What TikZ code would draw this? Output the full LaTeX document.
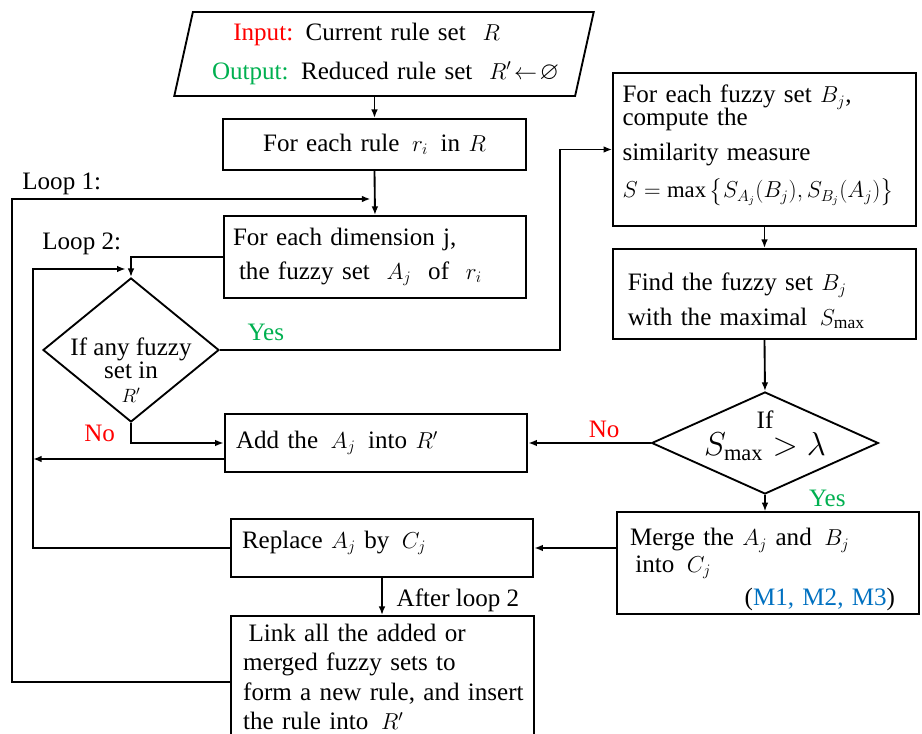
\documentclass[tikz,border=0pt]{standalone}
\usepackage{fontspec}
\setmainfont{Liberation Serif}
\usepackage{amsmath}
\usepackage{amssymb}
\usepackage{tikz}
\usetikzlibrary{arrows.meta,positioning,calc,shapes.geometric}
\definecolor{noRed}{RGB}{255,0,0}
\definecolor{yesGreen}{RGB}{0,176,80}
\definecolor{refBlue}{RGB}{0,112,192}
\newcommand{\boxfont}{\fontsize{18.8}{22}\selectfont}
\hyphenpenalty=10000

\begin{document}
\begin{tikzpicture}[x=0.75pt,y=0.75pt,yscale=-1,xscale=1,
  font=\boxfont, line width=1.4pt,
  arr/.style={-{Latex[length=6.5pt,width=5pt]}},
  block/.style={draw, inner xsep=1pt, inner ysep=2pt, text width=225pt, align=left},
  decision/.style={draw, diamond, inner sep=0pt},
  inout/.style={draw, trapezium, trapezium left angle=73.5, trapezium right angle=106.5, trapezium stretches=true, inner sep=0pt}]
\useasboundingbox (0,0) rectangle (922,734);

%Shape: Parallelogram
\node[inout, minimum width=315pt, minimum height=63pt, text width=280pt, align=left] (io) at (384,54) {\hspace*{27pt}\textcolor{noRed}{Input:} Current rule set \ $R$\\[7pt]\hspace*{11pt}\textcolor{yesGreen}{Output:} Reduced rule set \ $R'\!\leftarrow\!\varnothing$};

%Shape: Rectangle, left column
\node[block, minimum height=38.25pt, align=center] (rule) at (374.5,144.5) {For each rule \,$r_i$\, in $R$};
\node[block, minimum height=61.5pt] (dim) at (375,257) {\hspace*{6pt}For each dimension j,\\[3pt]\hspace*{10.5pt}the fuzzy set \ $A_j$ \ of \ $r_i$};
\node[block, minimum height=43.5pt] (add) at (376,443) {\hspace*{7.5pt}Add the \,$A_j$\, into $R'$};
\node[block, minimum height=43.5pt] (repl) at (382,548) {\hspace*{7.5pt}Replace $A_j$ by \,$C_j$\rule[-13pt]{0pt}{0pt}};
\node[block, minimum height=99pt] (link) at (382.5,682) {\hspace*{12pt}Link all the added or\\\hspace*{8pt}merged fuzzy sets to\\\hspace*{8pt}form a new rule, and insert\\\hspace*{8pt}the rule into \,$R'$\rule[-8pt]{0pt}{0pt}};

%Shape: Rectangle, right column
\node[block, minimum height=114.75pt] (sim) at (764.5,149.5) {\hspace*{6pt}For each fuzzy set $B_j$,\\[-5pt]\hspace*{6pt}compute the\\[4pt]\hspace*{6pt}similarity measure\\[6pt]\hspace*{6pt}{\fontsize{17}{20}\selectfont $S=\max\left\{S_{A_j}(B_j),S_{B_j}(A_j)\right\}$}\rule[-12pt]{0pt}{0pt}};
\node[block, minimum height=67.5pt] (find) at (764.5,294) {\hspace*{10pt}\rule{0pt}{24pt}Find the fuzzy set $B_j$\\[4pt]\hspace*{10pt}with the maximal \,$S_{\max}$};
\node[block, minimum height=75pt] (merge) at (768,563) {\hspace*{9pt}\rule{0pt}{23pt}Merge the $A_j$ and \,$B_j$\\[-2pt]\hspace*{13pt}into \,$C_j$\\[3pt]\hspace*{95pt}(\textcolor{refBlue}{M1, M2, M3})};

%Shape: Diamond
\node[decision, minimum width=132pt, minimum height=108pt] (dec1) at (131,350) {};
\node[decision, minimum width=170pt, minimum height=76.5pt] (dec2) at (765,443) {};

% Text Node
\node[align=center] (dec1txt) at (131,370) {If any fuzzy\\[-5pt]set in\\[-4pt]{\fontsize{14}{16}\selectfont $R'$}};
% Text Node
\node[align=center] (dec2txt) at (765,436) {If\\[-2pt]{\fontsize{24}{26}\selectfont $S_{\max}>\lambda$}};
% Text Node
\node[anchor=west] (loopone) at (17,184) {Loop 1:};
% Text Node
\node[anchor=west] (looptwo) at (37,244) {Loop 2:};

%Straight Lines
\coordinate (loopa) at (12,199);
\coordinate (loopb) at (33,269);
\coordinate (yesbend) at (560,350);
\coordinate (addout) at ($(add.west)+(0,16)$);
\draw[arr] (io.south -| rule.north) -- (rule.north);
\draw[arr] (rule.south) -- (dim.north);
\draw[arr, shorten >=3pt] (link.west) -| (loopa) -- (loopa -| rule.south);
\draw[arr] (dim.west) -| (dec1.north);
\draw[arr, shorten >=4pt] (repl.west) -| (loopb) -- (loopb -| dec1.north);
\draw[arr] (addout) -- (addout -| loopb);
\draw[arr] (dec1.east) -- node[pos=0.135, above, yshift=3pt, text=yesGreen]{Yes} (dec1.east -| yesbend) |- (sim.west);
\draw[arr] (dec1.south) |- node[pos=0.25, left, xshift=-8pt, text=noRed]{No} (add.west);
\draw[arr] (sim.south) -- (find.north);
\draw[arr] (find.south) -- (dec2.north);
\draw[arr] (dec2.west) -- node[pos=0.38, above, text=noRed]{No} (add.east);
\draw[arr] (dec2.south) -- node[pos=0.2, right=29pt, text=yesGreen]{Yes} (dec2.south |- merge.north);
\draw[arr] (repl.east -| merge.west) -- (repl.east);
\draw[arr] (repl.south) -- node[pos=0.6, right, xshift=7pt]{After loop 2} (repl.south |- link.north);
\end{tikzpicture}
\end{document}
